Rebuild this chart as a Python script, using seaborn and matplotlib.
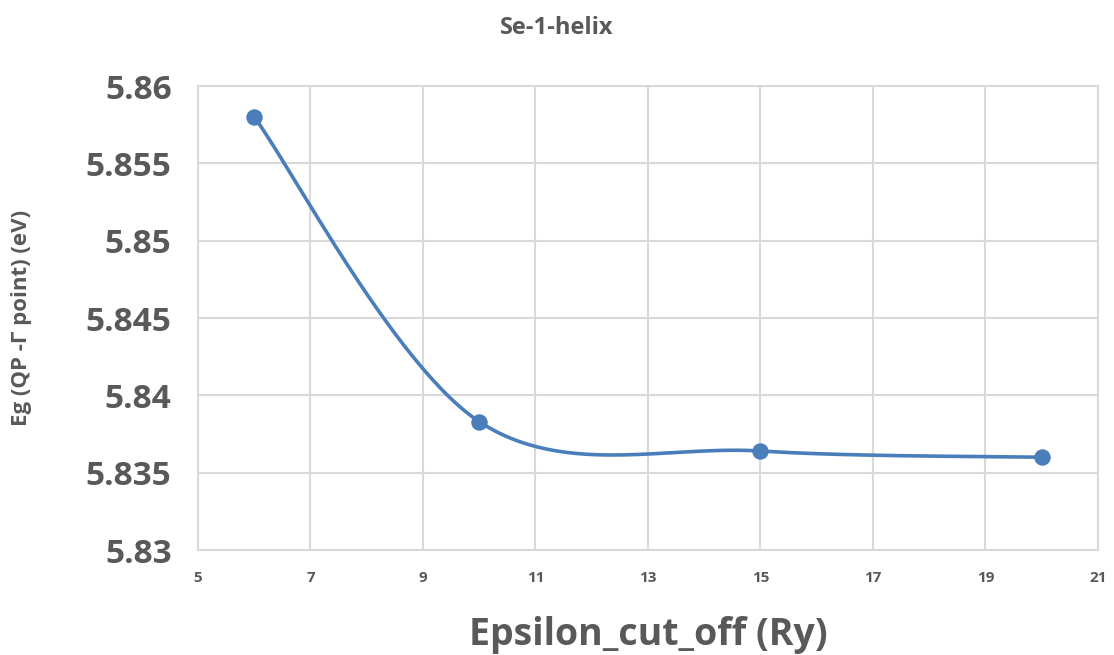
import numpy as np
import pandas as pd
import seaborn as sns
import matplotlib
matplotlib.use("Agg")
import matplotlib.pyplot as plt

# Data
cutoff = [6, 10, 15, 20]
eg = [5.8580, 5.8383, 5.8364, 5.8360]
x_ticks = [5, 7, 9, 11, 13, 15, 17, 19, 21]
y_ticks = [5.83, 5.835, 5.84, 5.845, 5.85, 5.855, 5.86]
y_tick_labels = ["5.83", "5.835", "5.84", "5.845", "5.85", "5.855", "5.86"]

sns.set_theme(style="white")
plt.rcParams['font.family'] = ['Open Sans', 'DejaVu Sans']

TXT = "#595959"
LINE = "#4a7ebb"

# Smoothed curve (Excel-like Catmull-Rom Bezier) from the data points
px = np.array(cutoff, dtype=float)
py = np.array(eg, dtype=float)
n = len(px)
sx, sy = [], []
t = np.linspace(0, 1, 60)
for i in range(n - 1):
    p0 = np.array([px[i], py[i]])
    p3 = np.array([px[i + 1], py[i + 1]])
    pm = np.array([px[max(i - 1, 0)], py[max(i - 1, 0)]])
    pn = np.array([px[min(i + 2, n - 1)], py[min(i + 2, n - 1)]])
    c1 = p0 + (p3 - pm) / 6.0
    c2 = p3 - (pn - p0) / 6.0
    b = ((1 - t) ** 3)[:, None] * p0 + (3 * (1 - t) ** 2 * t)[:, None] * c1 \
        + (3 * (1 - t) * t ** 2)[:, None] * c2 + (t ** 3)[:, None] * p3
    sx.extend(b[:, 0]); sy.extend(b[:, 1])

curve = pd.DataFrame({"x": sx, "y": sy})
pts = pd.DataFrame({"x": cutoff, "y": eg})

fig = plt.figure(figsize=(11.14, 6.55), dpi=100)
ax = fig.add_axes([0.1777, 0.1603, 0.8079, 0.7084])

sns.lineplot(data=curve, x="x", y="y", ax=ax, color=LINE, linewidth=2.6,
             sort=False, estimator=None)
sns.scatterplot(data=pts, x="x", y="y", ax=ax, color=LINE, s=140,
                edgecolor=LINE, linewidth=0, zorder=5)

ax.set_xlim(5, 21)
ax.set_ylim(5.83, 5.86)
ax.set_xticks(x_ticks)
ax.set_xticklabels([str(v) for v in x_ticks], fontsize=11, fontweight="bold", color=TXT)
ax.set_yticks(y_ticks)
ax.set_yticklabels(y_tick_labels, fontsize=24, fontweight="bold", color=TXT)
ax.tick_params(axis="y", length=0, pad=19)
ax.tick_params(axis="x", length=0, pad=15)

ax.grid(True, color="#d9d9d9", linewidth=1.5)
ax.set_axisbelow(True)
for s in ax.spines.values():
    s.set_color("#d9d9d9")
    s.set_linewidth(1.5)

ax.set_xlabel("Epsilon_cut_off (Ry)", fontsize=27, fontweight="bold", color=TXT, va="center")
ax.xaxis.set_label_coords(0.5, -0.183)
ax.set_ylabel("Eg (QP -Γ point) (eV)", fontsize=16, fontweight="bold", color=TXT, va="center")
ax.yaxis.set_label_coords(-0.196, 0.5)
fig.text(0.5, 0.958, "Se-1-helix", ha="center", va="center", fontsize=17,
         fontweight="bold", color=TXT)

fig.savefig("out.png", dpi=100)
